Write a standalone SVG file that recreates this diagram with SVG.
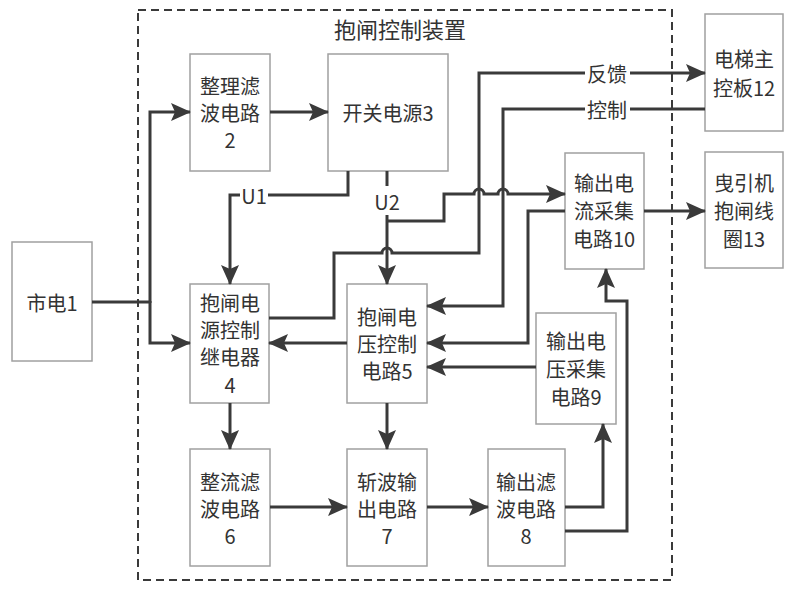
<svg xmlns="http://www.w3.org/2000/svg" width="799" height="596" viewBox="0 0 799 596">
<style>
.box{fill:#fff;stroke:#a0a0a0;stroke-width:1.5}
.t{font-family:"Noto Sans CJK SC","Liberation Sans",sans-serif;font-size:20px;fill:#333;text-anchor:middle;dominant-baseline:central}
.ttl{font-size:22px}
.c{fill:none;stroke:#3a3a3a;stroke-width:3}
.a{marker-end:url(#arr)}
</style>
<defs>
<marker id="arr" markerUnits="userSpaceOnUse" viewBox="0 0 20 18" refX="19" refY="9" markerWidth="20" markerHeight="18" orient="auto">
<path d="M0,0 L20,9 L0,18 L4,9 z" fill="#3a3a3a"/>
</marker>
</defs>
<rect width="799" height="596" fill="#fff"/>
<g id="frame">
<rect x="138" y="10" width="534" height="570" fill="none" stroke="#3a3a3a" stroke-width="2" stroke-dasharray="8,5"/>
<text class="t ttl" x="400" y="28">抱闸控制装置</text>
</g>
<g id="n1"><rect class="box" x="12" y="242" width="80" height="119"/><text class="t" x="52" y="302">市电1</text></g>
<g id="n2"><rect class="box" x="190" y="54" width="80" height="117"/><text class="t" x="230" y="85">整理滤</text><text class="t" x="230" y="112">波电路</text><text class="t" x="230" y="139">2</text></g>
<g id="n3"><rect class="box" x="328" y="54" width="120" height="117"/><text class="t" x="388" y="112">开关电源3</text></g>
<g id="n4"><rect class="box" x="190" y="284" width="79" height="119"/><text class="t" x="230" y="302">抱闸电</text><text class="t" x="230" y="329">源控制</text><text class="t" x="230" y="356">继电器</text><text class="t" x="230" y="384">4</text></g>
<g id="n5"><rect class="box" x="347" y="284" width="80" height="119"/><text class="t" x="387" y="316">抱闸电</text><text class="t" x="387" y="343">压控制</text><text class="t" x="387" y="370">电路5</text></g>
<g id="n6"><rect class="box" x="190" y="449" width="80" height="117"/><text class="t" x="230" y="481">整流滤</text><text class="t" x="230" y="508">波电路</text><text class="t" x="230" y="535">6</text></g>
<g id="n7"><rect class="box" x="347" y="449" width="80" height="117"/><text class="t" x="387" y="481">斩波输</text><text class="t" x="387" y="508">出电路</text><text class="t" x="387" y="535">7</text></g>
<g id="n8"><rect class="box" x="488" y="449" width="77" height="117"/><text class="t" x="526" y="481">输出滤</text><text class="t" x="526" y="508">波电路</text><text class="t" x="526" y="535">8</text></g>
<g id="n9"><rect class="box" x="536" y="313" width="80" height="111"/><text class="t" x="576" y="340">输出电</text><text class="t" x="576" y="368">压采集</text><text class="t" x="576" y="396">电路9</text></g>
<g id="n10"><rect class="box" x="565" y="153" width="79" height="116"/><text class="t" x="604" y="182">输出电</text><text class="t" x="604" y="210">流采集</text><text class="t" x="604" y="238">电路10</text></g>
<g id="n12"><rect class="box" x="705" y="14" width="78" height="117"/><text class="t" x="744" y="58">电梯主</text><text class="t" x="744" y="87">控板12</text></g>
<g id="n13"><rect class="box" x="705" y="152" width="78" height="116"/><text class="t" x="744" y="182">曳引机</text><text class="t" x="744" y="210">抱闸线</text><text class="t" x="744" y="238">圈13</text></g>
<g id="connectors">
<path class="c" d="M92,302 L150,302"/>
<path class="c a" d="M150,303 L150,112 L190,112"/>
<path class="c a" d="M150,301 L150,343 L190,343"/>
<path class="c a" d="M270,112 L328,112"/>
<path class="c" d="M348,171 L348,195 L268,195"/>
<path class="c a" d="M240,195 L230,195 L230,284"/>
<text class="t" x="254" y="195">U1</text>
<path class="c" d="M387,171 L387,186"/>
<text class="t" x="387" y="201">U2</text>
<path class="c a" d="M387,215 L387,284"/>
<path class="c a" d="M387,221 L444,221 L444,194 L474,194 A5,5 0 0 1 484,194 L498,194 A5,5 0 0 1 508,194 L565,194"/>
<path class="c" d="M269,318 L334,318 L334,253 L382,253 A5,5 0 0 1 392,253 L479,253 L479,73 L585,73"/>
<path class="c a" d="M630,73 L705,73"/>
<text class="t" x="607" y="73">反馈</text>
<path class="c" d="M705,109 L630,109"/>
<path class="c a" d="M585,109 L503,109 L503,306 L427,306"/>
<text class="t" x="607" y="109">控制</text>
<path class="c a" d="M644,211 L705,211"/>
<path class="c a" d="M565,211 L528,211 L528,343 L427,343"/>
<path class="c a" d="M347,343 L269,343"/>
<path class="c a" d="M536,367 L427,367"/>
<path class="c a" d="M230,403 L230,449"/>
<path class="c a" d="M387,403 L387,449"/>
<path class="c a" d="M270,507 L347,507"/>
<path class="c a" d="M427,507 L488,507"/>
<path class="c a" d="M565,507 L603,507 L603,424"/>
<path class="c a" d="M565,531 L627,531 L627,301 L606,301 L606,269"/>
</g>
</svg>
